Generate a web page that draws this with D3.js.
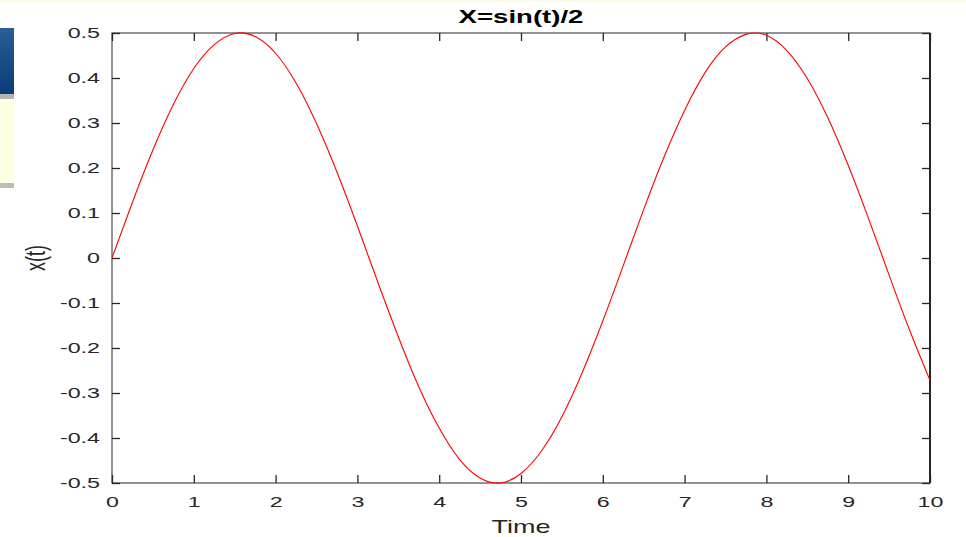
<!DOCTYPE html>
<html>
<head>
<meta charset="utf-8">
<script src="https://cdn.jsdelivr.net/npm/d3@7"></script>
<style>
  body { margin: 0; background: #fff; }
  svg { display: block; }
</style>
</head>
<body>
<div id="chart"></div>
<script>
// time samples and x(t) values
var times = [0, 0.25, 0.5, 0.75, 1, 1.25, 1.5, 1.75, 2, 2.25, 2.5, 2.75, 3, 3.25, 3.5, 3.75,
             4, 4.25, 4.5, 4.75, 5, 5.25, 5.5, 5.75, 6, 6.25, 6.5, 6.75, 7, 7.25, 7.5, 7.75,
             8, 8.25, 8.5, 8.75, 9, 9.25, 9.5, 9.75, 10];
var values = [0, 0.124, 0.240, 0.341, 0.421, 0.474, 0.499, 0.492, 0.455, 0.389, 0.299, 0.191,
              0.071, -0.054, -0.175, -0.286, -0.378, -0.448, -0.489, -0.500, -0.479, -0.429,
              -0.353, -0.254, -0.140, -0.017, 0.108, 0.225, 0.328, 0.412, 0.469, 0.497, 0.495,
              0.461, 0.399, 0.312, 0.206, 0.087, -0.038, -0.160, -0.272];
var xTicks = [0, 1, 2, 3, 4, 5, 6, 7, 8, 9, 10];
var yTicks = [-0.5, -0.4, -0.3, -0.2, -0.1, 0, 0.1, 0.2, 0.3, 0.4, 0.5];
var yTickLabels = ["-0.5", "-0.4", "-0.3", "-0.2", "-0.1", "0", "0.1", "0.2", "0.3", "0.4", "0.5"];

var W = 966, H = 537;
var plotLeft = 112, plotRight = 930, plotTop = 33, plotBottom = 483;
var ink = "#262626";
var font = "'Liberation Sans', Arial, sans-serif";
var stretch = 1.5; // the screenshot is stretched sideways, text too

var svg = d3.select("#chart").append("svg")
    .attr("width", W)
    .attr("height", H);

// bits of another window peeking in on the left edge
var defs = svg.append("defs");
var grad = defs.append("linearGradient").attr("id", "blueg")
    .attr("x1", 0).attr("y1", 0).attr("x2", 0).attr("y2", 1);
grad.append("stop").attr("offset", "0%").attr("stop-color", "#2b5d98");
grad.append("stop").attr("offset", "100%").attr("stop-color", "#0b3c78");
svg.append("rect").attr("x", 0).attr("y", 0).attr("width", W).attr("height", 3).attr("fill", "#fbfbee");
svg.append("rect").attr("x", 0).attr("y", 28).attr("width", 14).attr("height", 66).attr("fill", "url(#blueg)");
svg.append("rect").attr("x", 0).attr("y", 94).attr("width", 14).attr("height", 5).attr("fill", "#b4b4b4");
svg.append("rect").attr("x", 0).attr("y", 99).attr("width", 14).attr("height", 84).attr("fill", "#fefee0");
svg.append("rect").attr("x", 0).attr("y", 183).attr("width", 14).attr("height", 5).attr("fill", "#bcbcbc");

var x = d3.scaleLinear().domain([0, 10]).range([plotLeft, plotRight]);
var y = d3.scaleLinear().domain([-0.5, 0.5]).range([plotBottom, plotTop]);

// axes with ticks pointing inward, MATLAB style
var xAxis = svg.append("g")
    .attr("transform", "translate(0," + plotBottom + ")")
    .call(d3.axisBottom(x).tickValues(xTicks).tickSize(-8).tickPadding(13).tickFormat(d3.format("d")));
var xTop = svg.append("g")
    .attr("transform", "translate(0," + plotTop + ")")
    .call(d3.axisTop(x).tickValues(xTicks).tickSize(-8).tickFormat(""));
var yAxis = svg.append("g")
    .attr("transform", "translate(" + plotLeft + ",0)")
    .call(d3.axisLeft(y).tickValues(yTicks).tickSize(-8).tickPadding(12)
        .tickFormat(function (d, i) { return yTickLabels[i]; }));
var yRight = svg.append("g")
    .attr("transform", "translate(" + plotRight + ",0)")
    .call(d3.axisRight(y).tickValues(yTicks).tickSize(-8).tickFormat(""));

[xAxis, xTop, yAxis, yRight].forEach(function (g) {
    g.selectAll(".domain").remove();
    g.selectAll(".tick line").attr("stroke", ink).attr("stroke-width", 1.3);
    g.selectAll("text").each(function () {
        var t = d3.select(this);
        var tx = +t.attr("x") || 0;
        t.attr("x", 0)
         .attr("transform", "translate(" + tx + ",0) scale(" + stretch + ",1)")
         .attr("fill", ink)
         .attr("font-family", font)
         .attr("font-size", "15.5px");
    });
});

// box
svg.append("rect")
    .attr("x", plotLeft).attr("y", plotTop)
    .attr("width", plotRight - plotLeft).attr("height", plotBottom - plotTop)
    .attr("fill", "none").attr("stroke", ink).attr("stroke-width", 1);
svg.append("line")
    .attr("x1", plotRight).attr("x2", plotRight).attr("y1", plotTop).attr("y2", plotBottom)
    .attr("stroke", ink).attr("stroke-width", 2);

// the curve
var pts = times.map(function (t, i) { return [t, values[i]]; });
var line = d3.line()
    .x(function (d) { return x(d[0]); })
    .y(function (d) { return y(d[1]); })
    .curve(d3.curveNatural);
svg.append("path")
    .datum(pts)
    .attr("d", line)
    .attr("fill", "none")
    .attr("stroke", "#ff0000")
    .attr("stroke-width", 1.1);

// title and labels
var midX = (plotLeft + plotRight) / 2;
svg.append("text")
    .attr("transform", "translate(" + midX + ",23) scale(" + stretch + ",1)")
    .attr("text-anchor", "middle")
    .attr("font-family", font).attr("font-size", "18.4px").attr("font-weight", "bold")
    .attr("fill", "#000")
    .text("X=sin(t)/2");
svg.append("text")
    .attr("transform", "translate(" + midX + ",533) scale(" + stretch + ",1)")
    .attr("text-anchor", "middle")
    .attr("font-family", font).attr("font-size", "18px")
    .attr("fill", ink)
    .text("Time");
svg.append("text")
    .attr("transform", "translate(45," + ((plotTop + plotBottom) / 2) + ") rotate(-90) scale(1," + stretch + ")")
    .attr("text-anchor", "middle")
    .attr("font-family", font).attr("font-size", "18px")
    .attr("fill", ink)
    .text("x(t)");
</script>
</body>
</html>
